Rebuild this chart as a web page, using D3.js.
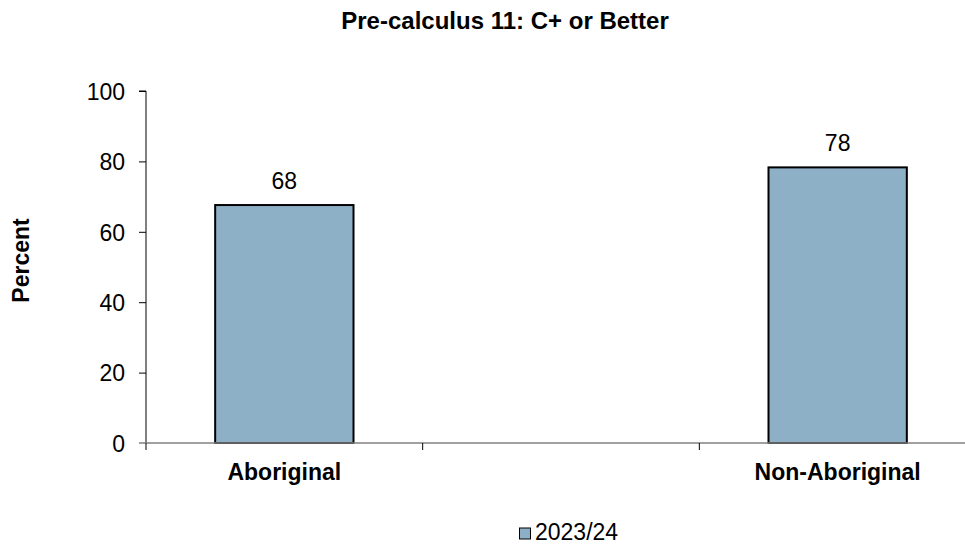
<!DOCTYPE html>
<html><head><meta charset="utf-8">
<script src="https://cdn.jsdelivr.net/npm/d3@7"></script>
<style>body{margin:0;background:#fff}svg{display:block;font-family:Arial,"Liberation Sans",sans-serif}</style>
</head><body>
<svg id="c" width="965" height="544"></svg>
<script>
const categories = ["Aboriginal", "", "Non-Aboriginal"];
const values = [67.6, null, 78.3];
const valueLabels = ["68", "", "78"];
const yTicks = [0, 20, 40, 60, 80, 100];
const seriesName = "2023/24";
const title = "Pre-calculus 11: C+ or Better";
const yTitle = "Percent";

(function(){
const svg = d3.select("#c");
const pL = 146, pR = 976, pT = 91, pB = 443;
const x = d3.scaleBand().domain(categories.map((c,i)=>i)).range([pL, pR]);
const y = d3.scaleLinear().domain([0, 100]).range([pB, pT]);
const barColor = "#8EB0C6";
const FS = 23;

svg.append("text").attr("x", 505).attr("y", 29).attr("text-anchor","middle")
  .attr("font-size", 24).attr("font-weight","bold").text(title);

// y axis
const ya = svg.append("g").attr("transform", `translate(${pL},0)`)
  .call(d3.axisLeft(y).tickValues(yTicks).tickSize(7).tickPadding(14));
ya.select(".domain").attr("stroke","#000").attr("d", `M-7,${pT}H0V${pB}`);
ya.selectAll(".tick line").attr("stroke","#000");
ya.selectAll(".tick").filter(d=>d===0).select("line").remove();
ya.selectAll("text").attr("font-size", FS).attr("fill","#000").attr("dy","0.36em")
  .attr("font-family","Arial, 'Liberation Sans', sans-serif");

// bars
const data = categories.map((c,i)=>({c, i, v: values[i], l: valueLabels[i]})).filter(d=>d.v!=null);
const bw = x.bandwidth()*0.5;
svg.selectAll("rect.bar").data(data).enter().append("rect")
  .attr("x", d=>x(d.i)+x.bandwidth()/2-bw/2).attr("width", bw)
  .attr("y", d=>y(d.v)).attr("height", d=>y(0)-y(d.v))
  .attr("fill", barColor).attr("stroke","#000").attr("stroke-width",2);
svg.selectAll("text.val").data(data).enter().append("text")
  .attr("x", d=>x(d.i)+x.bandwidth()/2).attr("y", d=>y(d.v)-16.5)
  .attr("text-anchor","middle").attr("font-size",FS).text(d=>d.l);

// x axis
const xa = svg.append("g");
xa.append("line").attr("x1", pL-7).attr("x2", pR).attr("y1", pB).attr("y2", pB)
  .attr("stroke","#808080").attr("stroke-width",1.5);
const bounds = d3.range(categories.length).map(i=>x(i));
xa.selectAll("line.t").data(bounds).enter().append("line")
  .attr("x1", d=>d).attr("x2", d=>d).attr("y1", pB).attr("y2", pB+7).attr("stroke","#000");
xa.selectAll("text").data(categories.map((c,i)=>({c,i})).filter(d=>d.c)).enter().append("text")
  .attr("x", d=>x(d.i)+x.bandwidth()/2).attr("y", 480).attr("text-anchor","middle")
  .attr("font-size",FS).attr("font-weight","bold").text(d=>d.c);

// y title
svg.append("text").attr("transform","translate(29,260.5) rotate(-90)").attr("text-anchor","middle")
  .attr("font-size",FS).attr("font-weight","bold").text(yTitle);

// legend
svg.append("rect").attr("x", 519.5).attr("y", 528).attr("width", 11).attr("height", 11)
  .attr("fill", barColor).attr("stroke","#000").attr("stroke-width",1);
svg.append("text").attr("x", 535).attr("y", 540).attr("font-size",FS).text(seriesName);
})();
</script>
</body></html>
